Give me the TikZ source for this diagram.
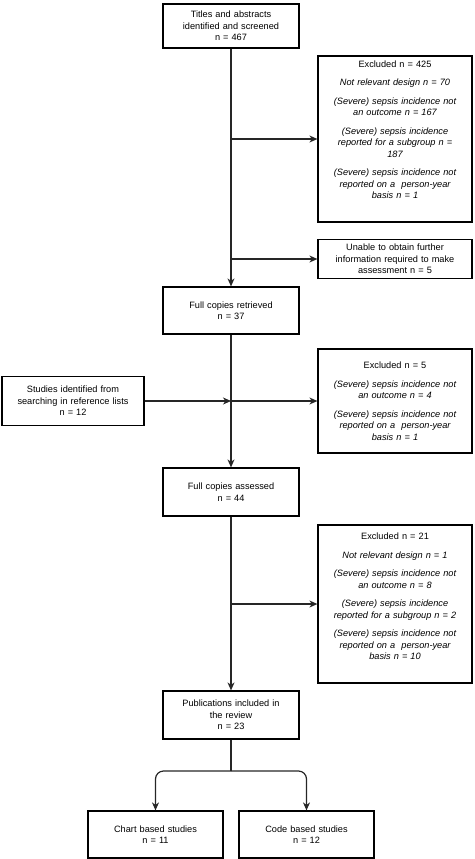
\documentclass[tikz,border=0pt]{standalone}
\usepackage{fontspec}
\setmainfont{Liberation Sans}
\usetikzlibrary{arrows.meta}
\begin{document}
\begin{tikzpicture}[x=1pt,y=-1pt,
  box/.style={draw=black, line width=1.2pt, align=center, inner sep=3pt,
    font=\fontsize{9.2}{11.5}\selectfont},
  mainbox/.style={box, text width=130pt, minimum height=#1pt},
  exbox/.style={box, text width=148pt, minimum height=#1pt},
  sidebox/.style={box, text width=136pt, minimum height=#1pt},
  endbox/.style={box, text width=129pt, minimum height=#1pt},
  conn/.style={draw=black!85, line width=1.2pt},
  arr/.style={conn, -{Stealth[length=8pt,width=7pt,inset=2.5pt]}}]
\useasboundingbox (0,0) rectangle (474,859);

\node[mainbox=44] (title) at (231,26) {Titles and abstracts\\identified and screened\\n = 467};
\node[exbox=166] (ex1) at (395,139) {Excluded n = 425\\[7pt]
  \itshape Not relevant design n = 70\\[7pt]
  \itshape (Severe) sepsis incidence not\\\itshape an outcome n = 167\\[7pt]
  \itshape (Severe) sepsis incidence\\\itshape reported for a subgroup n =\\\itshape 187\\[7pt]
  \itshape (Severe) sepsis incidence not\\\itshape reported on a \ person-year\\\itshape basis n = 1\\[7pt]\mbox{}};
\node[exbox=39] (unable) at (395,259) {Unable to obtain further\\information required to make\\assessment n = 5};
\node[mainbox=47] (retr) at (231,310.5) {Full copies retrieved\\n = 37};
\node[sidebox=49] (stud) at (73,401) {Studies identified from\\searching in reference lists\\n = 12};
\node[exbox=104] (ex5) at (395,401) {Excluded n = 5\\[7pt]
  \itshape (Severe) sepsis incidence not\\\itshape an outcome n = 4\\[7pt]
  \itshape (Severe) sepsis incidence not\\\itshape reported on a \ person-year\\\itshape basis n = 1};
\node[mainbox=48] (ass) at (231,492) {Full copies assessed\\n = 44};
\node[exbox=158] (ex21) at (395,604) {Excluded n = 21\\[7pt]
  \itshape Not relevant design n = 1\\[7pt]
  \itshape (Severe) sepsis incidence not\\\itshape an outcome n = 8\\[7pt]
  \itshape (Severe) sepsis incidence\\\itshape reported for a subgroup n = 2\\[7pt]
  \itshape (Severe) sepsis incidence not\\\itshape reported on a \ person-year\\\itshape basis n = 10\\[4pt]\mbox{}};
\node[mainbox=48] (pub) at (231,715) {Publications included in\\the review\\n = 23};
\node[endbox=47] (chart) at (155.5,834.5) {Chart based studies\\n = 11};
\node[endbox=47] (code) at (306.5,834.5) {Code based studies\\n = 12};

\coordinate (j1) at (231,139);
\coordinate (j2) at (231,259);
\coordinate (j3) at (231,401);
\coordinate (j4) at (231,604);
\coordinate (j5) at (231,771);

\draw[arr] (title.south) -- (retr.north);
\draw[arr] (j1) -- (ex1.west);
\draw[arr] (j2) -- (unable.west);
\draw[arr] (retr.south) -- (ass.north);
\draw[arr] (stud.east) -- (j3);
\draw[arr] (j3) -- (ex5.west);
\draw[arr] (ass.south) -- (pub.north);
\draw[arr] (j4) -- (ex21.west);
\draw[conn] (pub.south) -- (j5);
\draw[arr, rounded corners=8pt] (j5) -| (chart.north);
\draw[arr, rounded corners=8pt] (j5) -| (code.north);
\end{tikzpicture}
\end{document}
